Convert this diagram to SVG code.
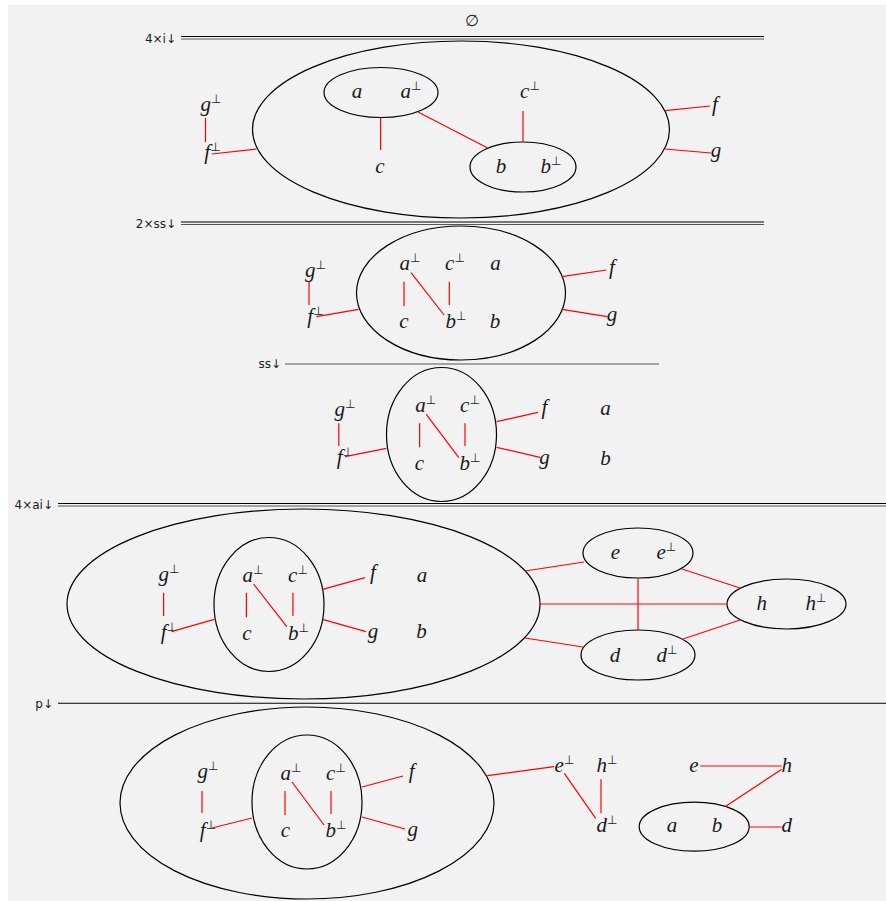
<svg xmlns="http://www.w3.org/2000/svg" width="886" height="901" viewBox="0 0 886 901">
<style>
.m{font-family:"Liberation Serif","Times New Roman","DejaVu Serif",serif;font-style:italic;font-size:21px;fill:#1a1a1a;text-anchor:middle}
.p{font-family:"DejaVu Sans",sans-serif;font-style:normal;font-size:12px}
.l{font-family:"DejaVu Sans",sans-serif;font-size:12px;fill:#1a1a1a;text-anchor:end}
.o{fill:none;stroke:#000;stroke-width:1.2}
.r{stroke:#f00;stroke-width:1.2;fill:none}
.k{stroke:#000;stroke-width:1.1}
.k2{stroke:#555;stroke-width:1.1}
</style>
<rect x="0" y="0" width="886" height="901" fill="#fff"/>
<rect x="8" y="5" width="878" height="896" fill="#f2f2f2"/>

<g id="rules">
<text class="m" x="472" y="26" style="font-style:normal;font-family:'DejaVu Sans',sans-serif;font-size:16px">∅</text>
<text class="l" x="176" y="42.5">4×i↓</text>
<line class="k" x1="181" y1="36.5" x2="764" y2="36.5"/>
<line class="k2" x1="181" y1="39" x2="764" y2="39"/>
<text class="l" x="176" y="227.5">2×ss↓</text>
<line class="k" x1="181" y1="222" x2="764" y2="222"/>
<line class="k2" x1="181" y1="224.5" x2="764" y2="224.5"/>
<text class="l" x="281" y="368">ss↓</text>
<line class="k2" x1="285" y1="364" x2="659" y2="364"/>
<text class="l" x="53" y="509">4×ai↓</text>
<line class="k" x1="58" y1="503.5" x2="886" y2="503.5"/>
<line class="k2" x1="58" y1="506" x2="886" y2="506"/>
<text class="l" x="53" y="707.5">p↓</text>
<line class="k" x1="58" y1="703.3" x2="886" y2="703.3"/>
</g>

<!-- Section 1 -->
<g id="s1-outer"><ellipse class="o" cx="461" cy="129.5" rx="208.5" ry="88.5"/></g>
<g id="s1-aa"><ellipse class="o" cx="381" cy="92.5" rx="57" ry="25"/>
<text class="m" x="357" y="98">a</text>
<text class="m" x="411" y="98">a<tspan class="p" dy="-8">⊥</tspan></text></g>
<g id="s1-c"><text class="m" x="380" y="173">c</text></g>
<g id="s1-cp"><text class="m" x="530" y="98">c<tspan class="p" dy="-8">⊥</tspan></text></g>
<g id="s1-bb"><ellipse class="o" cx="523" cy="167" rx="53" ry="25"/>
<text class="m" x="501" y="173">b</text>
<text class="m" x="551" y="173">b<tspan class="p" dy="-8">⊥</tspan></text></g>
<g id="s1-gp"><text class="m" x="211" y="110.5">g<tspan class="p" dy="-8">⊥</tspan></text></g>
<g id="s1-fp"><text class="m" x="212.5" y="159">f<tspan class="p" dy="-8">⊥</tspan></text></g>
<g id="s1-f"><text class="m" x="715" y="111">f</text></g>
<g id="s1-g"><text class="m" x="716" y="157">g</text></g>

<!-- Section 2 -->
<g id="s2-outer"><ellipse class="o" cx="461" cy="293" rx="104.5" ry="67"/></g>
<g id="s2-gp"><text class="m" x="315.5" y="277">g<tspan class="p" dy="-8">⊥</tspan></text></g>
<g id="s2-fp"><text class="m" x="315.5" y="322.5">f<tspan class="p" dy="-8">⊥</tspan></text></g>
<g id="s2-ap"><text class="m" x="410" y="270">a<tspan class="p" dy="-8">⊥</tspan></text></g>
<g id="s2-cp"><text class="m" x="455" y="270">c<tspan class="p" dy="-8">⊥</tspan></text></g>
<g id="s2-a"><text class="m" x="495.5" y="270">a</text></g>
<g id="s2-c"><text class="m" x="404" y="328">c</text></g>
<g id="s2-bp"><text class="m" x="456" y="328">b<tspan class="p" dy="-8">⊥</tspan></text></g>
<g id="s2-b"><text class="m" x="495" y="328">b</text></g>
<g id="s2-f"><text class="m" x="612" y="274">f</text></g>
<g id="s2-g"><text class="m" x="612" y="321">g</text></g>

<!-- Section 3 -->
<g id="s3-outer"><ellipse class="o" cx="441.5" cy="434.5" rx="55" ry="67"/></g>
<g id="s3-gp"><text class="m" x="345" y="415.5">g<tspan class="p" dy="-8">⊥</tspan></text></g>
<g id="s3-fp"><text class="m" x="345" y="464">f<tspan class="p" dy="-8">⊥</tspan></text></g>
<g id="s3-ap"><text class="m" x="425.7" y="411.5">a<tspan class="p" dy="-8">⊥</tspan></text></g>
<g id="s3-cp"><text class="m" x="470" y="411.5">c<tspan class="p" dy="-8">⊥</tspan></text></g>
<g id="s3-c"><text class="m" x="419.5" y="470">c</text></g>
<g id="s3-bp"><text class="m" x="470" y="470">b<tspan class="p" dy="-8">⊥</tspan></text></g>
<g id="s3-f"><text class="m" x="544.5" y="414">f</text></g>
<g id="s3-g"><text class="m" x="544.5" y="464">g</text></g>
<g id="s3-a"><text class="m" x="605.5" y="415">a</text></g>
<g id="s3-b"><text class="m" x="605.5" y="465">b</text></g>

<!-- Section 4 -->
<g id="s4-outer"><ellipse class="o" cx="303.5" cy="604" rx="236.5" ry="95"/></g>
<g id="s4-inner"><ellipse class="o" cx="269" cy="604.5" rx="55" ry="67"/></g>
<g id="s4-gp"><text class="m" x="169" y="580.5">g<tspan class="p" dy="-8">⊥</tspan></text></g>
<g id="s4-fp"><text class="m" x="169" y="639">f<tspan class="p" dy="-8">⊥</tspan></text></g>
<g id="s4-ap"><text class="m" x="253" y="581.5">a<tspan class="p" dy="-8">⊥</tspan></text></g>
<g id="s4-cp"><text class="m" x="298" y="581.5">c<tspan class="p" dy="-8">⊥</tspan></text></g>
<g id="s4-c"><text class="m" x="247" y="640">c</text></g>
<g id="s4-bp"><text class="m" x="298.5" y="640">b<tspan class="p" dy="-8">⊥</tspan></text></g>
<g id="s4-f"><text class="m" x="373" y="579">f</text></g>
<g id="s4-g"><text class="m" x="373" y="637.5">g</text></g>
<g id="s4-a"><text class="m" x="422" y="581.5">a</text></g>
<g id="s4-b"><text class="m" x="421.5" y="638">b</text></g>
<g id="s4-ee"><ellipse class="o" cx="638" cy="553" rx="55" ry="25"/>
<text class="m" x="615.3" y="559">e</text>
<text class="m" x="666.3" y="559">e<tspan class="p" dy="-8">⊥</tspan></text></g>
<g id="s4-dd"><ellipse class="o" cx="638" cy="655" rx="57" ry="25"/>
<text class="m" x="615" y="661.5">d</text>
<text class="m" x="667" y="661.5">d<tspan class="p" dy="-8">⊥</tspan></text></g>
<g id="s4-hh"><ellipse class="o" cx="786.5" cy="604" rx="59.5" ry="25"/>
<text class="m" x="761.7" y="610">h</text>
<text class="m" x="816" y="610">h<tspan class="p" dy="-8">⊥</tspan></text></g>

<!-- Section 5 -->
<g id="s5-outer"><ellipse class="o" cx="307" cy="803" rx="187" ry="96"/></g>
<g id="s5-inner"><ellipse class="o" cx="307" cy="802" rx="55" ry="67"/></g>
<g id="s5-gp"><text class="m" x="208" y="777.5">g<tspan class="p" dy="-8">⊥</tspan></text></g>
<g id="s5-fp"><text class="m" x="208" y="836.5">f<tspan class="p" dy="-8">⊥</tspan></text></g>
<g id="s5-ap"><text class="m" x="291" y="780">a<tspan class="p" dy="-8">⊥</tspan></text></g>
<g id="s5-cp"><text class="m" x="336" y="780">c<tspan class="p" dy="-8">⊥</tspan></text></g>
<g id="s5-c"><text class="m" x="285.5" y="836.5">c</text></g>
<g id="s5-bp"><text class="m" x="336" y="836.5">b<tspan class="p" dy="-8">⊥</tspan></text></g>
<g id="s5-f"><text class="m" x="411.7" y="777.5">f</text></g>
<g id="s5-g"><text class="m" x="412.7" y="836">g</text></g>
<g id="s5-ep"><text class="m" x="564.5" y="771.5">e<tspan class="p" dy="-8">⊥</tspan></text></g>
<g id="s5-hp"><text class="m" x="607" y="771.5">h<tspan class="p" dy="-8">⊥</tspan></text></g>
<g id="s5-dp"><text class="m" x="607" y="831.5">d<tspan class="p" dy="-8">⊥</tspan></text></g>
<g id="s5-e"><text class="m" x="694" y="771.5">e</text></g>
<g id="s5-h"><text class="m" x="786.7" y="771.5">h</text></g>
<g id="s5-ab"><ellipse class="o" cx="694.2" cy="826.7" rx="55" ry="24.5"/>
<text class="m" x="672" y="831.5">a</text>
<text class="m" x="717" y="831.5">b</text></g>
<g id="s5-d"><text class="m" x="786.7" y="831.5">d</text></g>

<g id="connectors" class="r">
<line x1="205.5" y1="118" x2="205.5" y2="142"/>
<line x1="211.7" y1="154" x2="256.5" y2="149"/>
<line x1="380.6" y1="118" x2="380.6" y2="150"/>
<line x1="418" y1="112" x2="487.7" y2="148"/>
<line x1="523" y1="111" x2="523" y2="141.7"/>
<line x1="665" y1="110.7" x2="710" y2="106"/>
<line x1="665" y1="149" x2="711" y2="153"/>

<line x1="309" y1="281.7" x2="309" y2="305"/>
<line x1="316.4" y1="316.7" x2="358.6" y2="309.3"/>
<line x1="404" y1="281.7" x2="404" y2="306"/>
<line x1="449.3" y1="281.7" x2="449.3" y2="305"/>
<line x1="411" y1="272.7" x2="444" y2="315"/>
<line x1="562" y1="276.7" x2="606.4" y2="270"/>
<line x1="562" y1="309.3" x2="607.5" y2="316.7"/>

<line x1="338.8" y1="423.3" x2="338.8" y2="446"/>
<line x1="345" y1="456.7" x2="386.4" y2="448.3"/>
<line x1="419.6" y1="423.3" x2="419.6" y2="447.3"/>
<line x1="465" y1="423.3" x2="465" y2="446"/>
<line x1="426.3" y1="414.3" x2="458.8" y2="457.7"/>
<line x1="496.6" y1="421.7" x2="537.9" y2="412.3"/>
<line x1="496.6" y1="447.3" x2="540" y2="457.3"/>

<line x1="163.6" y1="592.7" x2="163.6" y2="616"/>
<line x1="171.4" y1="631.7" x2="214.3" y2="619.3"/>
<line x1="246.4" y1="592.7" x2="246.4" y2="617.3"/>
<line x1="292.9" y1="592.7" x2="292.9" y2="616"/>
<line x1="253.6" y1="584" x2="286.8" y2="626.7"/>
<line x1="322.5" y1="589.3" x2="365" y2="577.7"/>
<line x1="322.5" y1="619.3" x2="366" y2="631.7"/>
<line x1="525" y1="571" x2="584" y2="562"/>
<line x1="539" y1="604" x2="727" y2="604"/>
<line x1="525" y1="638" x2="583" y2="647"/>
<line x1="638" y1="578" x2="638" y2="630"/>
<line x1="682" y1="569" x2="740" y2="588"/>
<line x1="683" y1="639" x2="740" y2="620"/>

<line x1="202" y1="791" x2="202" y2="813"/>
<line x1="212" y1="828" x2="252" y2="818"/>
<line x1="285" y1="791" x2="285" y2="815"/>
<line x1="331" y1="791" x2="331" y2="814"/>
<line x1="292" y1="782" x2="324" y2="825"/>
<line x1="362" y1="787" x2="403" y2="776"/>
<line x1="362" y1="817" x2="405" y2="829"/>
<line x1="487.3" y1="775.7" x2="554" y2="766.7"/>
<line x1="564.3" y1="773.3" x2="595.7" y2="818.3"/>
<line x1="601" y1="779.3" x2="601" y2="813.3"/>
<line x1="700" y1="766" x2="781.7" y2="766"/>
<line x1="781.7" y1="769.3" x2="725" y2="806.7"/>
<line x1="749.3" y1="827" x2="781.7" y2="827"/>
</g>
</svg>
